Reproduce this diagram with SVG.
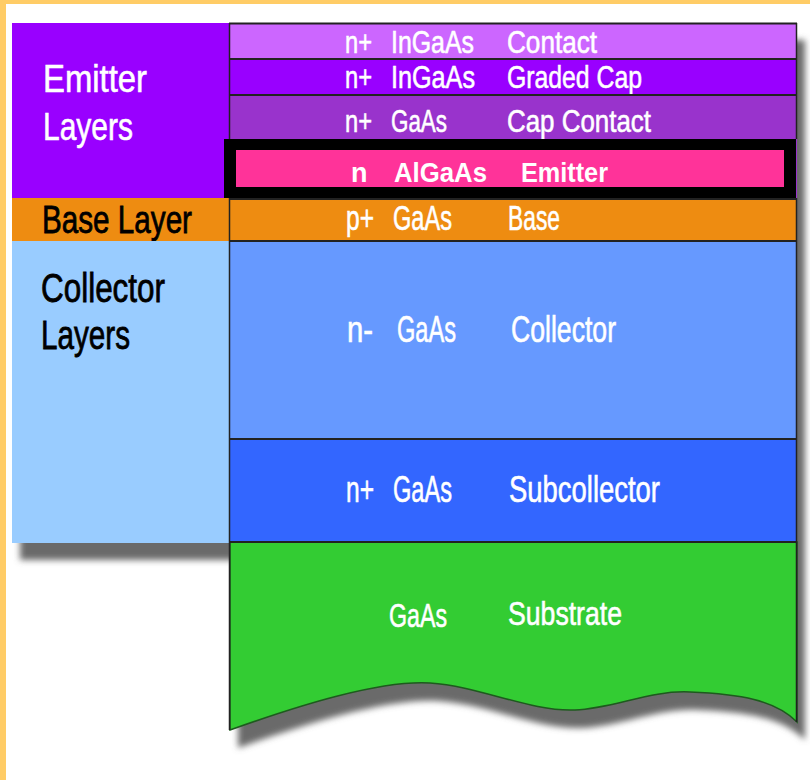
<svg xmlns="http://www.w3.org/2000/svg" width="810" height="780" viewBox="0 0 810 780">
<defs>
<filter id="blur" x="-10%" y="-10%" width="120%" height="130%"><feGaussianBlur stdDeviation="3"/></filter>
<style>
.w{fill:#fff;stroke:#fff;stroke-width:0.6;font-family:"Liberation Sans Narrow","Liberation Sans",Arial,sans-serif;}
.k{fill:#000;stroke:#000;stroke-width:0.8;font-family:"Liberation Sans Narrow","Liberation Sans",Arial,sans-serif;}
.b{fill:#fff;font-family:"Liberation Sans",Arial,sans-serif;font-weight:bold;font-size:27px;}
.sep{stroke:#222;stroke-width:2;}
.shadow{fill:#6a6a6a;filter:url(#blur);}
</style>
</defs>
<rect x="0" y="0" width="810" height="780" fill="#fff"/>
<rect x="0" y="0" width="810" height="4" fill="#FFCC66"/>
<rect x="0" y="0" width="6" height="780" fill="#FFCC66"/>

<!-- shadows -->
<rect class="shadow" x="20" y="38" width="217" height="522"/>
<path class="shadow" d="M238,40 H805 V740 C783,718 748,712 698,710 C658,708 623,726 583,728 C538,730 488,704 438,701 C388,698 308,723 238,748 Z"/>

<!-- left column -->
<g id="emitter-layers">
<rect x="12" y="23" width="218" height="176" fill="#9900FF"/>
<text class="w" x="43" y="92" font-size="39" textLength="104" lengthAdjust="spacingAndGlyphs">Emitter</text>
<text class="w" x="43" y="140" font-size="39" textLength="90" lengthAdjust="spacingAndGlyphs">Layers</text>
</g>
<g id="base-layer">
<rect x="12" y="198" width="218" height="43" fill="#EE8C11"/>
<text class="k" x="42" y="233" font-size="39" textLength="150" lengthAdjust="spacingAndGlyphs">Base Layer</text>
</g>
<g id="collector-layers">
<rect x="12" y="241" width="218" height="302" fill="#99CCFF"/>
<text class="k" x="41" y="302" font-size="40" textLength="124" lengthAdjust="spacingAndGlyphs">Collector</text>
<text class="k" x="41" y="349" font-size="40" textLength="89" lengthAdjust="spacingAndGlyphs">Layers</text>
</g>

<!-- right column layers -->
<g id="contact">
<rect x="229" y="23" width="568" height="36" fill="#CC66FF"/>
<text class="w" x="345" y="53" font-size="32" textLength="27" lengthAdjust="spacingAndGlyphs">n+</text>
<text class="w" x="391" y="53" font-size="32" textLength="83" lengthAdjust="spacingAndGlyphs">InGaAs</text>
<text class="w" x="507" y="53" font-size="32" textLength="90" lengthAdjust="spacingAndGlyphs">Contact</text>
</g>
<g id="graded-cap">
<rect x="229" y="59" width="568" height="36" fill="#9900FF"/>
<text class="w" x="345" y="88" font-size="32" textLength="27" lengthAdjust="spacingAndGlyphs">n+</text>
<text class="w" x="391" y="88" font-size="32" textLength="84" lengthAdjust="spacingAndGlyphs">InGaAs</text>
<text class="w" x="507" y="88" font-size="32" textLength="135" lengthAdjust="spacingAndGlyphs">Graded Cap</text>
</g>
<g id="cap-contact">
<rect x="229" y="95" width="568" height="104" fill="#9933CC"/>
<text class="w" x="345" y="132" font-size="32" textLength="27" lengthAdjust="spacingAndGlyphs">n+</text>
<text class="w" x="391" y="132" font-size="32" textLength="56" lengthAdjust="spacingAndGlyphs">GaAs</text>
<text class="w" x="507" y="132" font-size="32" textLength="144" lengthAdjust="spacingAndGlyphs">Cap Contact</text>
</g>
<g id="emitter">
<rect x="224" y="139" width="572" height="59" fill="#000"/>
<rect x="236" y="150" width="548" height="37" fill="#FF3399"/>
<text class="b" x="351" y="182">n</text>
<text class="b" x="394" y="182" textLength="93" lengthAdjust="spacingAndGlyphs">AlGaAs</text>
<text class="b" x="521" y="182" textLength="87" lengthAdjust="spacingAndGlyphs">Emitter</text>
</g>
<g id="base">
<rect x="229" y="199" width="568" height="42" fill="#EE8C11"/>
<text class="w" x="346" y="230" font-size="35" textLength="28" lengthAdjust="spacingAndGlyphs">p+</text>
<text class="w" x="393" y="230" font-size="35" textLength="59" lengthAdjust="spacingAndGlyphs">GaAs</text>
<text class="w" x="508" y="230" font-size="35" textLength="52" lengthAdjust="spacingAndGlyphs">Base</text>
</g>
<g id="collector">
<rect x="229" y="241" width="568" height="198" fill="#6699FF"/>
<text class="w" x="347" y="342" font-size="36" textLength="26" lengthAdjust="spacingAndGlyphs">n-</text>
<text class="w" x="397" y="342" font-size="36" textLength="59" lengthAdjust="spacingAndGlyphs">GaAs</text>
<text class="w" x="511" y="342" font-size="36" textLength="105" lengthAdjust="spacingAndGlyphs">Collector</text>
</g>
<g id="subcollector">
<rect x="229" y="439" width="568" height="103" fill="#3366FF"/>
<text class="w" x="346" y="502" font-size="36" textLength="28" lengthAdjust="spacingAndGlyphs">n+</text>
<text class="w" x="393" y="502" font-size="36" textLength="59" lengthAdjust="spacingAndGlyphs">GaAs</text>
<text class="w" x="509" y="502" font-size="36" textLength="151" lengthAdjust="spacingAndGlyphs">Subcollector</text>
</g>
<g id="substrate">
<path d="M230,542 H797 V722 C775,700 740,694 690,692 C650,690 615,708 575,710 C530,712 480,686 430,683 C380,680 300,705 230,730 Z" fill="#33CC33" stroke="#1e5a1e" stroke-width="1.5"/>
<text class="w" x="389" y="627" font-size="34" textLength="58" lengthAdjust="spacingAndGlyphs">GaAs</text>
<text class="w" x="508" y="625" font-size="34" textLength="114" lengthAdjust="spacingAndGlyphs">Substrate</text>
</g>

<!-- separators and outline -->
<g id="lines">
<line class="sep" x1="229" y1="23.5" x2="797" y2="23.5" stroke="#555"/>
<line class="sep" x1="229" y1="59" x2="797" y2="59"/>
<line class="sep" x1="229" y1="95" x2="797" y2="95"/>
<line class="sep" x1="229" y1="199" x2="797" y2="199" stroke="#8a4a10"/>
<line class="sep" x1="229" y1="241" x2="797" y2="241" stroke="#7a4a10"/>
<line class="sep" x1="229" y1="439" x2="797" y2="439"/>
<line class="sep" x1="229" y1="542" x2="797" y2="542"/>
<line x1="229.5" y1="23" x2="229.5" y2="139" stroke="#222" stroke-width="1.5"/>
<line x1="229.5" y1="198" x2="229.5" y2="730" stroke="#222" stroke-width="1.5"/>
<line x1="796.5" y1="23" x2="796.5" y2="139" stroke="#222" stroke-width="1.5"/>
<line x1="796.5" y1="198" x2="796.5" y2="722" stroke="#222" stroke-width="1.5"/>
</g>
</svg>
